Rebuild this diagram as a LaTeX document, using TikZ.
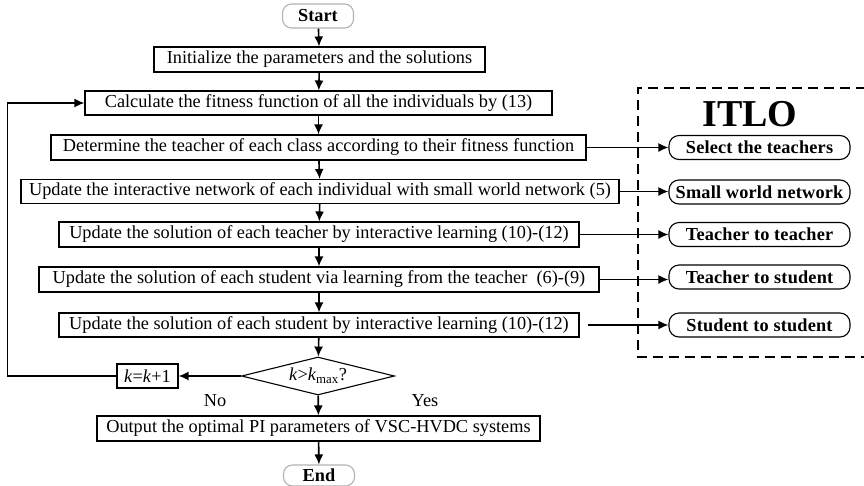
\documentclass[tikz,border=0pt]{standalone}
\usepackage{fontspec}
\setmainfont{Liberation Serif}
\usetikzlibrary{arrows.meta,shapes.geometric}
\begin{document}
\begin{tikzpicture}[x=1pt,y=-1pt,
  every node/.style={font=\fontsize{18.3}{21}\selectfont},
  procbox/.style={draw,line width=1.1pt,minimum height=25pt,inner sep=0pt},
  termbox/.style={draw=black!30,line width=1.1pt,rounded corners=9pt,minimum width=71pt,minimum height=24pt,inner sep=0pt,font=\fontsize{18.3}{21}\selectfont\bfseries},
  itlobox/.style={draw,line width=1.1pt,rounded corners=10pt,minimum width=181pt,minimum height=24pt,inner sep=0pt,font=\fontsize{18.3}{21}\selectfont\bfseries\addfontfeatures{LetterSpace=1}},
  decbox/.style={draw,line width=1.1pt,diamond,aspect=4,minimum width=153pt,minimum height=38pt,inner sep=0pt},
  flow/.style={line width=1.6pt,-{Latex[length=10pt,width=9pt]}},
  dashbox/.style={line width=1.1pt,dash pattern=on 10pt off 6pt},
]
\useasboundingbox (0,0) rectangle (864,485);
% main column
\node[termbox] (start) at (318,16) {Start};
\node[procbox,minimum width=331pt] (init) at (319.5,59.5) {Initialize the parameters and the solutions};
\node[procbox,minimum width=467pt,minimum height=24pt] (calc) at (318.5,103) {Calculate the fitness function of all the individuals by (13)};
\node[procbox,minimum width=535pt] (det) at (318.5,147.5) {Determine the teacher of each class according to their fitness function};
\node[procbox,minimum width=598pt,minimum height=24pt] (net) at (320,191.5) {Update the interactive network of each individual with small world network (5)};
\node[procbox,minimum width=520pt] (teach) at (319,234.5) {Update the solution of each teacher by interactive learning (10)-(12)};
\node[procbox,minimum width=560pt] (stud1) at (319,279.5) {Update the solution of each student via learning from the teacher\ \ (6)-(9)};
\node[procbox,minimum width=520pt,minimum height=24pt] (stud2) at (319,325) {Update the solution of each student by interactive learning (10)-(12)};
\node[decbox] (dec) at (318,376) {\textit{k}>\textit{k}\textsubscript{max}?};
\node[procbox,minimum width=61pt,minimum height=24pt] (kbox) at (147.5,376) {\textit{k}=\textit{k}+1};
\node[procbox,minimum width=443pt] (out) at (318.5,428.5) {Output the optimal PI parameters of VSC-HVDC systems};
\node[termbox,minimum height=21pt] (end) at (319,475.5) {End};
\node (no) at (215,401) {No};
\node (yes) at (425,401) {Yes};
% ITLO panel
\coordinate (dtl) at (638,88);
\coordinate (dtr) at (866,88);
\coordinate (dbl) at (638,357);
\coordinate (dbr) at (866,357);
\draw[dashbox] (dtr) -- (dtl) -- (dbl) -- (dbr);
\node[font=\fontsize{38}{42}\selectfont\bfseries] (itlo) at (750,114) {ITLO};
\node[itlobox] (sel) at (759.5,147.5) {Select the teachers};
\node[itlobox] (sw) at (759.5,192) {Small world network};
\node[itlobox] (tt) at (759.5,234.5) {Teacher to teacher};
\node[itlobox] (ts) at (759.5,277) {Teacher to student};
\node[itlobox] (ss) at (759.5,325) {Student to student};
% flow arrows
\draw[flow] (start) -- (init);
\draw[flow] (init) -- (calc);
\draw[flow] (calc) -- (det);
\draw[flow] (det) -- (net);
\draw[flow] (net) -- (teach);
\draw[flow] (teach) -- (stud1);
\draw[flow] (stud1) -- (stud2);
\draw[flow] (stud2) -- (dec);
\draw[flow] (dec) -- (out);
\draw[flow] (out) -- (end);
\draw[flow] (dec.west) -- (kbox.east);
\draw[flow] (kbox.west) -- ++(-109,0) |- (calc.west);
% links to ITLO
\draw[flow] (det.east) -- (det.east -| sel.west);
\draw[flow] (net.east) -- (net.east -| sw.west);
\draw[flow] (teach.east) -- (teach.east -| tt.west);
\draw[flow] (stud1.east) -- (stud1.east -| ts.west);
\draw[flow,shorten <=8pt] (stud2.east) -- (stud2.east -| ss.west);
\end{tikzpicture}
\end{document}
